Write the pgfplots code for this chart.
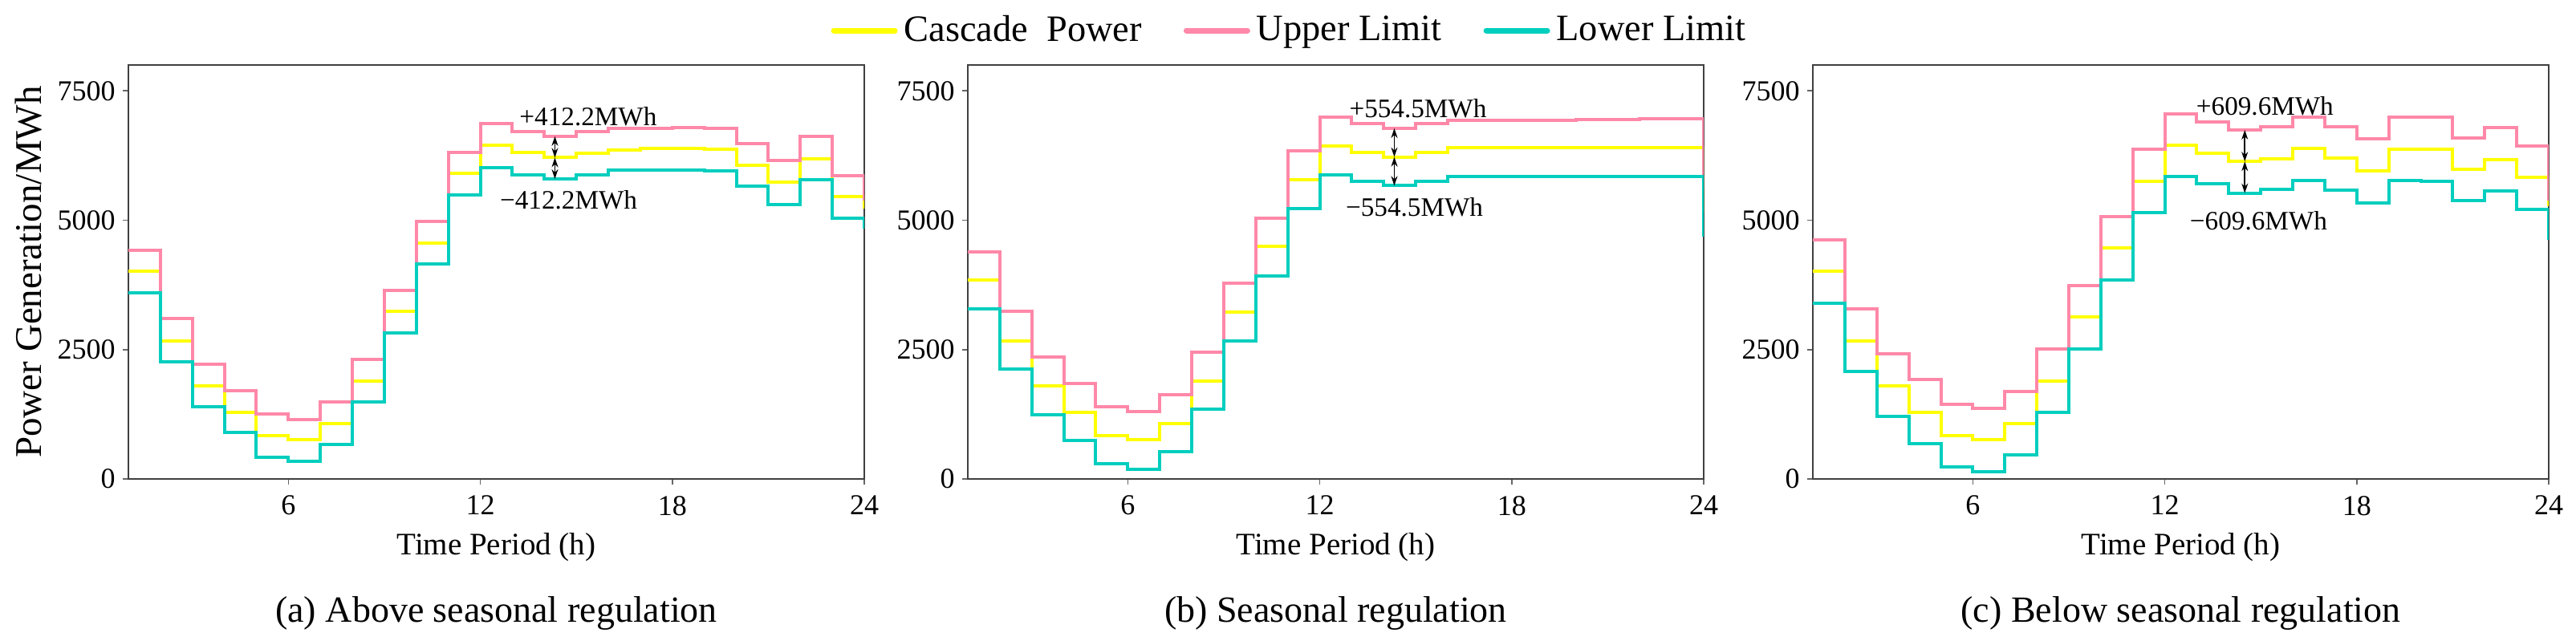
\documentclass[border=0pt]{standalone}
\usepackage{fontspec}
\setmainfont{Liberation Serif}
\usepackage{pgfplots}
\usepackage{pgfplotstable}
\pgfplotsset{compat=1.18}
\usetikzlibrary{arrows.meta}

\definecolor{cpow}{RGB}{255,255,0}
\definecolor{upl}{RGB}{255,136,168}
\definecolor{lowl}{RGB}{0,206,190}

% hour, upper limit, cascade power, lower limit
\pgfplotstableread{
h up cas low
1 4420 4010 3596
2 3100 2671 2268
3 2222 1803 1390
4 1710 1292 894
5 1255 842 424
6 1152 754 336
7 1493 1069 661
8 2309 1891 1488
9 3642 3234 2816
10 4980 4562 4154
11 6308 5900 5487
12 6861 6442 6019
13 6716 6303 5879
14 6622 6210 5798
15 6706 6293 5874
16 6778 6360 5972
17 6778 6386 5972
18 6794 6386 5972
19 6768 6375 5946
20 6484 6060 5657
21 6148 5730 5306
22 6618 6190 5786
23 5859 5451 5037
24 5380 5220 4836
}\dataA

\pgfplotstableread{
h up cas low
1 4391 3839 3281
2 3239 2666 2118
3 2356 1803 1240
4 1850 1286 749
5 1390 842 300
6 1307 754 186
7 1633 1069 527
8 2454 1891 1348
9 3787 3219 2666
10 5037 4493 3926
11 6334 5786 5223
12 6990 6432 5879
13 6871 6303 5755
14 6776 6222 5667
15 6861 6303 5755
16 6938 6396 5838
17 6938 6396 5843
18 6938 6396 5843
19 6938 6396 5849
20 6940 6396 5843
21 6940 6396 5843
22 6955 6396 5843
23 6955 6396 5843
24 5600 5150 4680
}\dataB

\pgfplotstableread{
h up cas low
1 4624 4014 3394
2 3281 2666 2072
3 2418 1803 1204
4 1917 1292 687
5 1447 842 232
6 1359 754 134
7 1689 1069 470
8 2511 1891 1292
9 3740 3131 2511
10 5063 4460 3852
11 6365 5755 5146
12 7052 6442 5838
13 6902 6293 5699
14 6745 6135 5525
15 6799 6190 5590
16 6995 6386 5771
17 6809 6205 5585
18 6566 5952 5337
19 6985 6365 5760
20 6985 6365 5745
21 6592 5977 5373
22 6784 6169 5559
23 6437 5822 5208
24 5380 5270 4620
}\dataC

\pgfplotsset{
  panel/.style={
    scale only axis,
    width=229.25pt, height=129pt,
    xmin=1, xmax=24, ymin=0, ymax=8000,
    xtick={6,12,18,24}, ytick={0,2500,5000,7500},
    tick pos=left, tick align=outside,
    major tick length=1.75pt,
    axis line style={black!75, line width=0.4pt},
    every tick/.style={black!60, line width=0.4pt},
    /pgf/number format/1000 sep={},
    /pgf/number format/assume math mode=true,
    tick label style={font=\fontsize{9}{10}\selectfont},
    yticklabel style={xshift=1.2pt},
    xlabel={Time Period (h)},
    xlabel style={font=\fontsize{9.75}{11}\selectfont,
      at={(axis description cs:0.5,0)}, anchor=center, yshift=-21.25pt},
    every axis plot/.append style={const plot, line width=1pt, mark=none},
    legend image code/.code={\draw[#1, line width=1.75pt, line cap=round] (0pt,0pt) -- (19pt,0pt);},
  },
}
\tikzset{
  ann/.style={font=\fontsize{8.3}{9.5}\selectfont},
  dbl/.style={{Stealth[length=3pt,width=2pt]}-{Stealth[length=3pt,width=2pt]}, line width=0.4pt, black},
}

\begin{document}
\begin{tikzpicture}
\useasboundingbox (0,0) rectangle (802.5pt,199.75pt);

% (a)
\begin{axis}[panel, name=pa, at={(40pt,50.5pt)},
  ylabel={Power Generation/MWh},
  ylabel style={font=\fontsize{11.75}{13}\selectfont,
    at={(axis description cs:0,0.5)}, anchor=center, yshift=31pt}]
\addplot[color=cpow] table[x=h,y=cas]{\dataA};
\addplot[color=upl] table[x=h,y=up]{\dataA};
\addplot[color=lowl] table[x=h,y=low]{\dataA};
\draw[dbl] (axis cs:14.33,6622) -- (axis cs:14.33,6210);
\draw[dbl] (axis cs:14.33,6210) -- (axis cs:14.33,5798);
\node[ann] at (axis cs:15.37,7005) {+412.2MWh};
\node[ann] at (axis cs:14.76,5388) {−412.2MWh};
\end{axis}

% (b)
\begin{axis}[panel, name=pb, at={(301.5pt,50.5pt)},
  legend columns=3,
  legend style={at={(axis description cs:0.44,1.0833)}, anchor=center,
    draw=none, fill=none, font=\fontsize{11.6}{13}\selectfont,
    /tikz/every even column/.append style={column sep=11pt}}]
\addplot[color=cpow] table[x=h,y=cas]{\dataB};
\addlegendentry{Cascade\ \ Power}
\addplot[color=upl] table[x=h,y=up]{\dataB};
\addlegendentry{Upper Limit}
\addplot[color=lowl] table[x=h,y=low]{\dataB};
\addlegendentry{Lower Limit}
\draw[dbl] (axis cs:14.33,6776) -- (axis cs:14.33,6222);
\draw[dbl] (axis cs:14.33,6222) -- (axis cs:14.33,5667);
\node[ann] at (axis cs:15.07,7155) {+554.5MWh};
\node[ann] at (axis cs:14.96,5259) {−554.5MWh};
\end{axis}

% (c)
\begin{axis}[panel, name=pc, at={(564.75pt,50.5pt)}]
\addplot[color=cpow] table[x=h,y=cas]{\dataC};
\addplot[color=upl] table[x=h,y=up]{\dataC};
\addplot[color=lowl] table[x=h,y=low]{\dataC};
\draw[dbl] (axis cs:14.5,6745) -- (axis cs:14.5,6135);
\draw[dbl] (axis cs:14.5,6135) -- (axis cs:14.5,5525);
\node[ann] at (axis cs:15.13,7207) {+609.6MWh};
\node[ann] at (axis cs:14.93,4985) {−609.6MWh};
\end{axis}

\node[font=\fontsize{11.5}{13}\selectfont] at ([yshift=-42pt]pa.south) {(a) Above seasonal regulation};
\node[font=\fontsize{11.5}{13}\selectfont] at ([yshift=-42pt]pb.south) {(b) Seasonal regulation};
\node[font=\fontsize{11.5}{13}\selectfont] at ([yshift=-42pt]pc.south) {(c) Below seasonal regulation};
\end{tikzpicture}
\end{document}
